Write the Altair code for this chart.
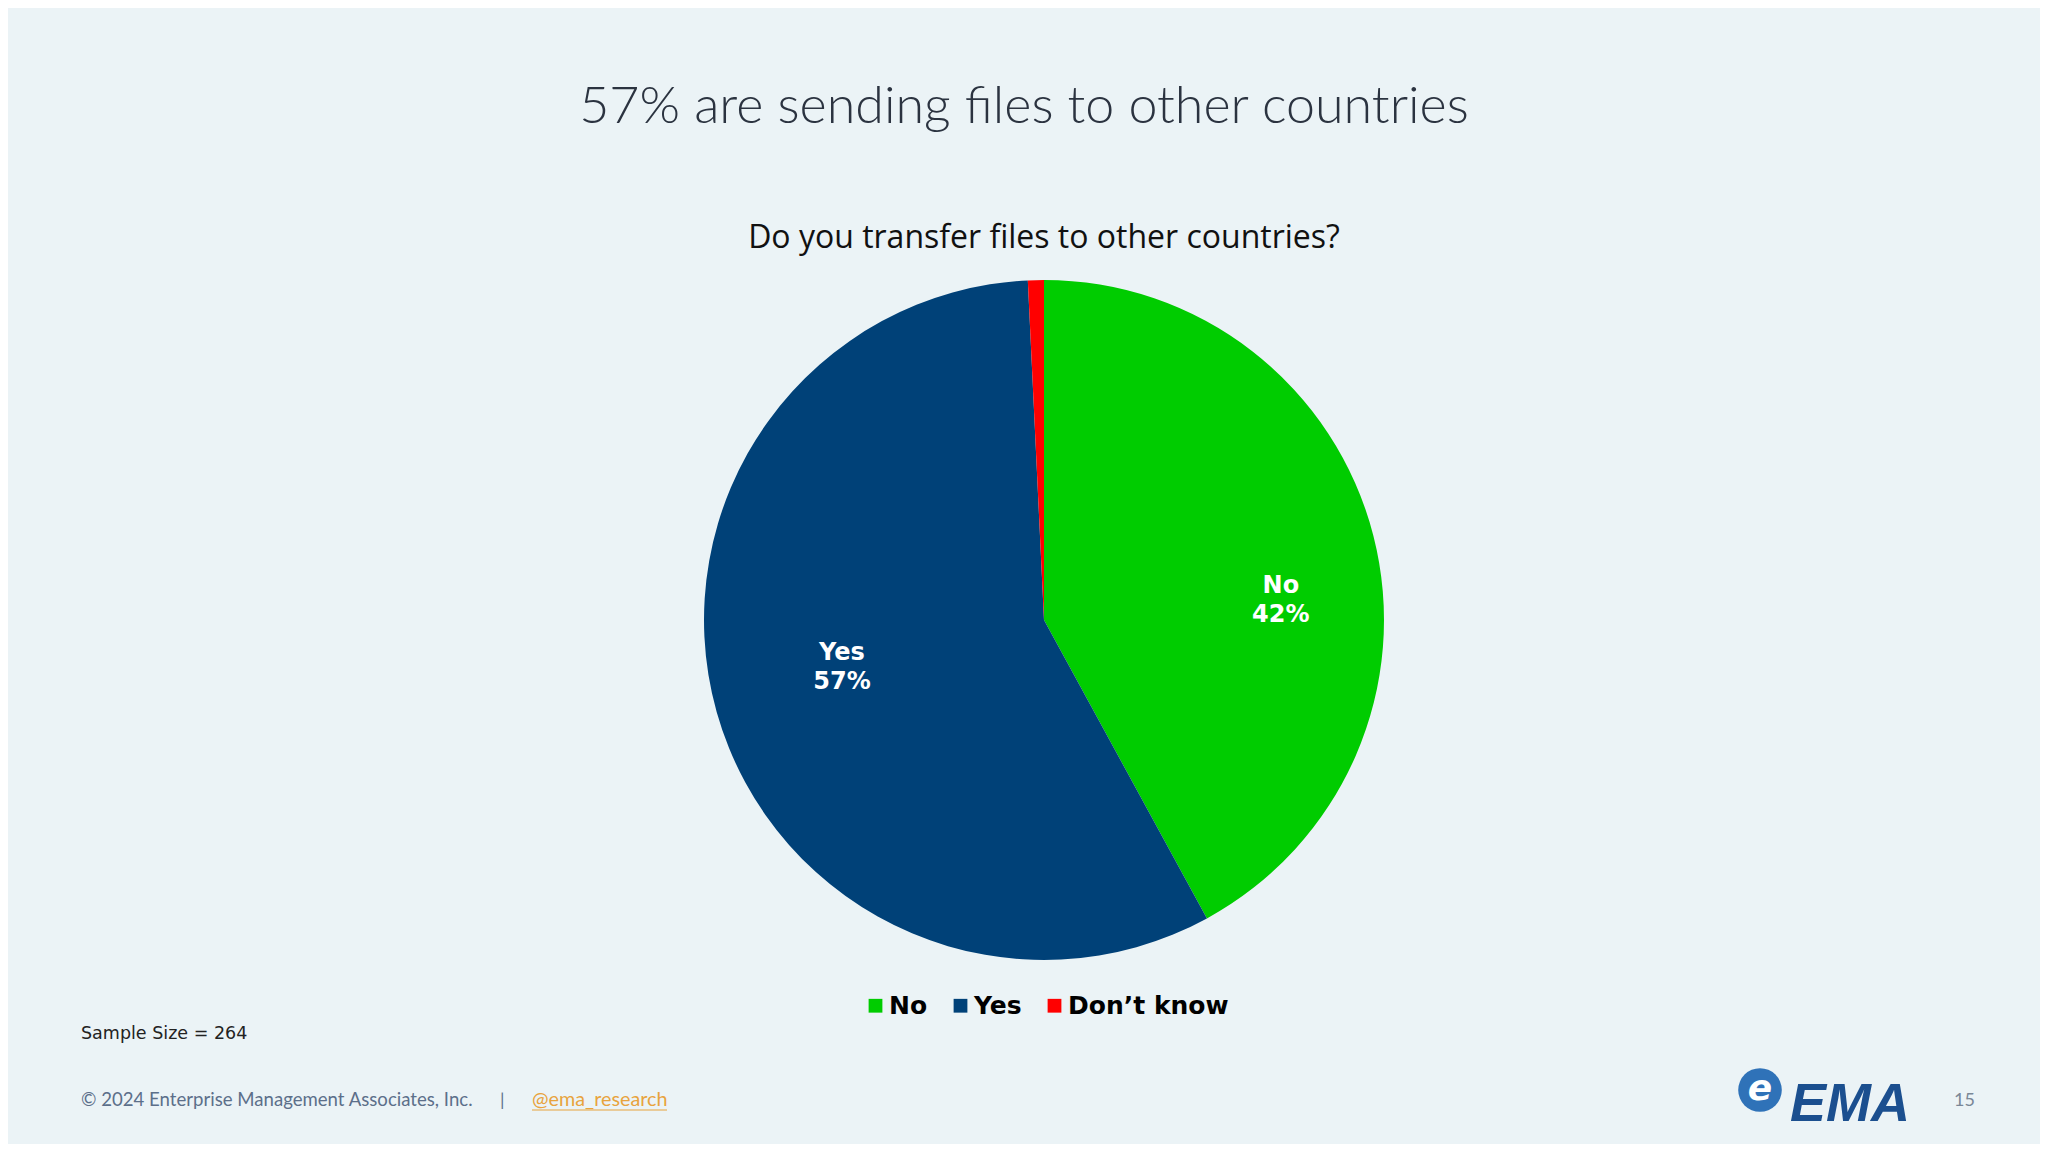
import altair as alt
import pandas as pd

# ---- data ----
categories = ["No", "Yes", "Don\u2019t know"]
counts = [111, 151, 2]
order = [0, 1, 2]
colors = ["#00CC00", "#004178", "#FF0000"]

title_text = "57% are sending files to other countries"
question_text = "Do you transfer files to other countries?"
sample_text = "Sample Size = 264"
footer_text = "\u00a9 2024 Enterprise Management Associates, Inc."
handle_text = "@ema_research"
page_text = "15"

df = pd.DataFrame({"cat": categories, "count": counts, "ord": order})

W, H = 2032, 1136
CX, CY, R = 1036, 612, 340
BG = "#EBF3F6"

color_scale = alt.Scale(domain=categories, range=colors)

pie = alt.Chart(df).mark_arc(stroke=None).encode(
    theta=alt.Theta("count:Q", stack=True),
    order=alt.Order("ord:Q"),
    color=alt.Color(
        "cat:N",
        scale=color_scale,
        legend=alt.Legend(
            title=None,
            orient="none",
            legendX=855,
            legendY=985,
            direction="horizontal",
            symbolType="square",
            symbolSize=190,
            symbolStrokeWidth=0,
            labelFont="DejaVu Sans",
            labelFontSize=25,
            labelFontWeight="bold",
            labelColor="#000000",
            labelLimit=0,
            labelOffset=1,
            columnPadding=20,
        ),
    ),
    x=alt.value(CX),
    y=alt.value(CY),
    radius=alt.value(R),
)

labels = alt.Chart(df).transform_joinaggregate(
    total="sum(count)"
).transform_calculate(
    label="datum.cat === 'Don\u2019t know' ? '' : datum.cat + '\\n' + format(datum.count / datum.total, '.0%')"
).mark_text(
    font="DejaVu Sans",
    fontSize=24,
    fontWeight="bold",
    color="white",
    lineBreak="\n",
    lineHeight=29,
    align="center",
    baseline="middle",
    thetaOffset=0.11,
    dx=17,
    dy=-3,
).encode(
    theta=alt.Theta("count:Q", stack=True),
    order=alt.Order("ord:Q"),
    text="label:N",
    x=alt.value(CX),
    y=alt.value(CY),
    radius=alt.value(222),
)

def txt(text, x, y, size, font, color, weight="normal", align="left", baseline="alphabetic", style=None):
    kw = dict(text=text, font=font, fontSize=size, color=color, fontWeight=weight,
              align=align, baseline=baseline)
    if style:
        kw["fontStyle"] = style
    return alt.Chart(df.head(1)).mark_text(**kw).encode(x=alt.value(x), y=alt.value(y))

title = txt(title_text, 1016, 115, 52, "Lato", "#2B3340", weight=300, align="center")
question = txt(question_text, 1036, 240, 32, "Open Sans", "#111111", align="center")
sample = txt(sample_text, 73, 1031, 17.5, "DejaVu Sans", "#222222")
footer = txt(footer_text, 73, 1098, 18.6, "Lato", "#5C6F8A")
sep = txt("|", 492, 1098, 18, "Lato", "#5C6F8A")
handle = txt(handle_text, 524, 1098, 19.8, "Lato", "#E8A33D")
underline = alt.Chart(df.head(1)).mark_rule(color="#E8A33D", strokeWidth=1.2).encode(
    x=alt.value(524), x2=alt.value(659), y=alt.value(1102)
)
page = txt(page_text, 1946, 1098, 18, "Lato", "#7A8797")
logo_mark = alt.Chart(df.head(1)).mark_point(
    shape="circle", filled=True, size=1900, color="#2F72B8", opacity=1
).encode(x=alt.value(1752), y=alt.value(1082))
logo_e = txt("e", 1752, 1092, 36, "DejaVu Sans", "white", weight="bold", align="center", style="italic")
logo = txt("EMA", 1782, 1113, 54, "Liberation Sans", "#1B4F8F", weight="bold", style="italic")

chart = alt.layer(
    pie, labels, title, question, sample, footer, sep, handle, underline, page,
    logo_mark, logo_e, logo,
).properties(
    width=W,
    height=H,
    background=BG,
    padding=0,
    autosize=alt.AutoSizeParams(type="fit", contains="padding"),
).configure_view(stroke=None)

chart.save("out.html", embed_options={"renderer": "svg", "actions": False})
